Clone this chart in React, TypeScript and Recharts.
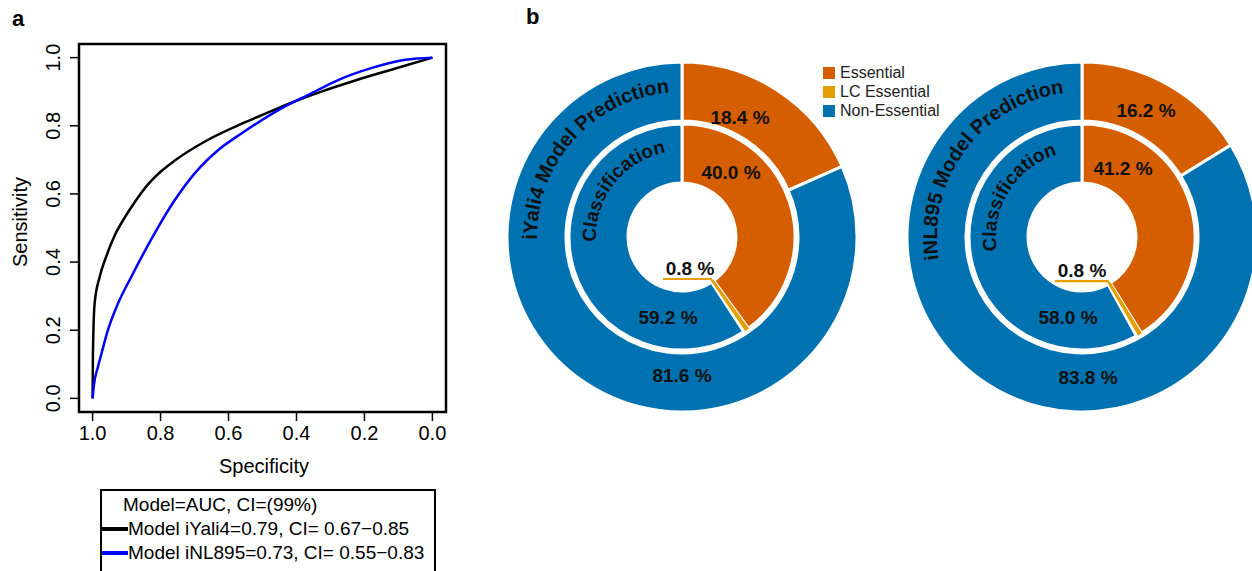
import { LineChart, Line, XAxis, YAxis, ReferenceArea, PieChart, Pie, Cell } from 'recharts'

const FONT = '"Liberation Sans", Arial, Helvetica, sans-serif'

// ROC curves (specificity on x, sensitivity on y)
const yaliSpec = [1.0, 0.999, 0.994, 0.979, 0.96, 0.935, 0.906, 0.886, 0.837, 0.8, 0.758, 0.66, 0.561, 0.493, 0.424, 0.325, 0.227, 0.109, 0.0]
const yaliSens = [0.0, 0.131, 0.279, 0.357, 0.416, 0.478, 0.53, 0.561, 0.628, 0.665, 0.698, 0.759, 0.806, 0.835, 0.864, 0.901, 0.933, 0.968, 1.0]
const nlSpec = [1.0, 0.996, 0.985, 0.974, 0.955, 0.925, 0.886, 0.812, 0.758, 0.699, 0.63, 0.561, 0.424, 0.365, 0.276, 0.178, 0.08, 0.0]
const nlSens = [0.0, 0.04, 0.09, 0.131, 0.2, 0.279, 0.357, 0.494, 0.582, 0.661, 0.729, 0.778, 0.862, 0.891, 0.935, 0.97, 0.994, 1.0]
const rocTicks = [0, 0.2, 0.4, 0.6, 0.8, 1.0]

// donut data (%)
const predCategories = ['Essential', 'Non-Essential']
const classCategories = ['Essential', 'LC Essential', 'Non-Essential']
const yaliPrediction = [18.4, 81.6]
const yaliClassification = [40.0, 0.8, 59.2]
const nlPrediction = [16.2, 83.8]
const nlClassification = [41.2, 0.8, 58.0]

const COLORS: Record<string, string> = {
  'Essential': '#D55E00',
  'LC Essential': '#E69F00',
  'Non-Essential': '#0072B2',
}

const toPoints = (xs: number[], ys: number[]) => xs.map((s, i) => ({ spec: s, sens: ys[i] }))
const yaliPoints = toPoints(yaliSpec, yaliSens)
const nlPoints = toPoints(nlSpec, nlSens)

function XTick({ x, y, payload }: any) {
  return (
    <text x={x} y={y + 17} textAnchor="middle" fill="#000" fontSize={20} fontFamily={FONT}>
      {Number(payload.value).toFixed(1)}
    </text>
  )
}

function YTick({ x, y, payload }: any) {
  const bx = x - 8
  return (
    <text x={bx} y={y} transform={`rotate(-90, ${bx}, ${y})`} textAnchor="middle" fill="#000" fontSize={20} fontFamily={FONT}>
      {Number(payload.value).toFixed(1)}
    </text>
  )
}

function RocChart() {
  return (
    <LineChart width={460} height={480} margin={{ top: 44, right: 14, bottom: 0, left: 22 }}>
      <XAxis
        type="number"
        dataKey="spec"
        domain={[-0.04, 1.04]}
        allowDataOverflow
        reversed
        ticks={rocTicks}
        interval={0}
        axisLine={false}
        tickSize={9}
        tickLine={{ stroke: '#000', strokeWidth: 1.5 }}
        tick={<XTick />}
        height={68}
      />
      <YAxis
        type="number"
        dataKey="sens"
        domain={[-0.04, 1.04]}
        allowDataOverflow
        ticks={rocTicks}
        interval={0}
        axisLine={false}
        tickSize={9}
        tickLine={{ stroke: '#000', strokeWidth: 1.5 }}
        tick={<YTick />}
        width={57}
      />
      <ReferenceArea x1={-0.04} x2={1.04} y1={-0.04} y2={1.04} fill="none" stroke="#000" strokeWidth={2.5} ifOverflow="visible" />
      <Line data={yaliPoints} dataKey="sens" type="monotone" stroke="#000" strokeWidth={2.5} dot={false} isAnimationActive={false} />
      <Line data={nlPoints} dataKey="sens" type="monotone" stroke="#0000FF" strokeWidth={2.5} dot={false} isAnimationActive={false} />
    </LineChart>
  )
}

function arcPath(cx: number, cy: number, r: number, mid: number, span: number) {
  const a0 = ((mid + span) * Math.PI) / 180
  const a1 = ((mid - span) * Math.PI) / 180
  const x0 = cx + r * Math.cos(a0)
  const y0 = cy - r * Math.sin(a0)
  const x1 = cx + r * Math.cos(a1)
  const y1 = cy - r * Math.sin(a1)
  return `M ${x0} ${y0} A ${r} ${r} 0 0 1 ${x1} ${y1}`
}

const pctStyle = { fontSize: 19, fontWeight: 700, fontFamily: FONT, fill: '#111' }

interface DonutProps {
  id: string
  title: string
  prediction: number[]
  classification: number[]
  outerMid: number
  innerMid: number
  outerPos: number[][]
  innerPos: number[][]
}

function CurvedText({ id, cx, cy, r, mid, size, text }: any) {
  return (
    <g>
      <defs>
        <path id={id} d={arcPath(cx, cy, r, mid, 85)} />
      </defs>
      <text textAnchor="middle" fontSize={size} fontWeight={700} fontFamily={FONT} fill="#111">
        <textPath href={`#${id}`} startOffset="50%">{text}</textPath>
      </text>
    </g>
  )
}

function Donut({ id, title, prediction, classification, outerMid, innerMid, outerPos, innerPos }: DonutProps) {
  const outerData = predCategories.map((name, i) => ({ name, value: prediction[i] }))
  const innerData = classCategories.map((name, i) => ({ name, value: classification[i] }))

  const outerLabel = (p: any) => {
    const [dx, dy] = outerPos[p.index]
    const v = p.payload?.value ?? p.value
    return (
      <g key={`o-${p.index}`}>
        <text x={p.cx + dx} y={p.cy + dy} textAnchor="middle" dominantBaseline="central" style={pctStyle}>
          {`${Number(v).toFixed(1)} %`}
        </text>
        {p.index === 1 && (
          <CurvedText id={`${id}-outer`} cx={p.cx} cy={p.cy} r={145} mid={outerMid} size={20} text={`${title} Model Prediction`} />
        )}
      </g>
    )
  }

  const innerLabel = (p: any) => {
    const [dx, dy] = innerPos[p.index]
    const v = p.payload?.value ?? p.value
    const lx = p.cx + dx
    const ly = p.cy + dy
    let leader = null
    if (p.index === 1) {
      const a = (-p.midAngle * Math.PI) / 180
      const ax = p.cx + (p.innerRadius - 3) * Math.cos(a)
      const ay = p.cy + (p.innerRadius - 3) * Math.sin(a)
      const bx = p.cx + (p.outerRadius - 6) * Math.cos(a)
      const by = p.cy + (p.outerRadius - 6) * Math.sin(a)
      leader = (
        <polyline points={`${lx - 27},${ay} ${ax},${ay} ${bx},${by}`} fill="none" stroke="#E69F00" strokeWidth={2.2} />
      )
    }
    return (
      <g key={`i-${p.index}`}>
        {leader}
        <text x={lx} y={ly} textAnchor="middle" dominantBaseline="central" style={pctStyle}>
          {`${Number(v).toFixed(1)} %`}
        </text>
        {p.index === 2 && (
          <CurvedText id={`${id}-inner`} cx={p.cx} cy={p.cy} r={86} mid={innerMid} size={19} text="Classification" />
        )}
      </g>
    )
  }

  return (
    <PieChart width={360} height={360} margin={{ top: 0, right: 0, bottom: 0, left: 0 }}>
      <Pie
        data={outerData}
        dataKey="value"
        cx={180}
        cy={180}
        innerRadius={116}
        outerRadius={175}
        startAngle={90}
        endAngle={-270}
        stroke="#fff"
        strokeWidth={3}
        label={outerLabel}
        labelLine={false}
        isAnimationActive={false}
      >
        {outerData.map((d) => (
          <Cell key={d.name} fill={COLORS[d.name]} />
        ))}
      </Pie>
      <Pie
        data={innerData}
        dataKey="value"
        cx={180}
        cy={180}
        innerRadius={54}
        outerRadius={113}
        startAngle={90}
        endAngle={-270}
        stroke="#fff"
        strokeWidth={3}
        label={innerLabel}
        labelLine={false}
        isAnimationActive={false}
      >
        {innerData.map((d) => (
          <Cell
            key={d.name}
            fill={COLORS[d.name]}
            stroke={d.name === 'LC Essential' ? COLORS[d.name] : '#fff'}
            strokeWidth={d.name === 'LC Essential' ? 1 : 3}
          />
        ))}
      </Pie>
    </PieChart>
  )
}

const abs = (left: number, top: number): React.CSSProperties => ({ position: 'absolute', left, top })

export default function App() {
  return (
    <div
      style={{
        position: 'fixed',
        left: 0,
        top: 0,
        width: 1252,
        height: 571,
        overflow: 'hidden',
        background: '#fff',
        fontFamily: FONT,
        color: '#000',
      }}
    >
      {/* panel letters */}
      <div style={{ ...abs(12, 6), fontSize: 22, fontWeight: 700 }}>a</div>
      <div style={{ ...abs(526, 4), fontSize: 22, fontWeight: 700 }}>b</div>

      {/* panel a: ROC */}
      <div style={abs(0, 0)}>
        <RocChart />
      </div>
      <div
        style={{
          ...abs(20, 222),
          fontSize: 20,
          whiteSpace: 'nowrap',
          transform: 'translate(-50%, -50%) rotate(-90deg)',
        }}
      >
        Sensitivity
      </div>
      <div style={{ ...abs(264, 466), fontSize: 20, transform: 'translate(-50%, -50%)' }}>Specificity</div>

      {/* ROC legend */}
      <div
        style={{
          ...abs(100, 489),
          width: 336,
          height: 120,
          border: '2px solid #000',
          boxSizing: 'border-box',
        }}
      />
      <div style={{ ...abs(123, 494), fontSize: 19, lineHeight: '22px', whiteSpace: 'nowrap' }}>Model=AUC, CI=(99%)</div>
      <div style={{ ...abs(102, 527), width: 26, height: 4, background: '#000' }} />
      <div style={{ ...abs(128, 518), fontSize: 19, lineHeight: '22px', whiteSpace: 'nowrap' }}>
        Model iYali4=0.79, CI= 0.67−0.85
      </div>
      <div style={{ ...abs(102, 551), width: 26, height: 4, background: '#0000FF' }} />
      <div style={{ ...abs(128, 542), fontSize: 19, lineHeight: '22px', whiteSpace: 'nowrap' }}>
        Model iNL895=0.73, CI= 0.55−0.83
      </div>

      {/* panel b: donuts */}
      <div style={abs(502, 57)}>
        <Donut
          id="yali"
          title="iYali4"
          prediction={yaliPrediction}
          classification={yaliClassification}
          outerMid={138}
          innerMid={142}
          outerPos={[[58, -120], [0, 138]]}
          innerPos={[[49, -65], [8, 31], [-14, 80]]}
        />
      </div>
      <div style={abs(902, 57)}>
        <Donut
          id="nl"
          title="iNL895"
          prediction={nlPrediction}
          classification={nlClassification}
          outerMid={143}
          innerMid={148}
          outerPos={[[64, -127], [6, 140]]}
          innerPos={[[41, -69], [0, 33], [-14, 80]]}
        />
      </div>

      {/* donut legend */}
      {classCategories.map((c, i) => (
        <div key={c}>
          <div style={{ ...abs(823, 67 + i * 19), width: 12, height: 12, background: COLORS[c] }} />
          <div style={{ ...abs(840, 63 + i * 19), fontSize: 16, lineHeight: '19px', whiteSpace: 'nowrap', color: '#222' }}>{c}</div>
        </div>
      ))}
    </div>
  )
}
